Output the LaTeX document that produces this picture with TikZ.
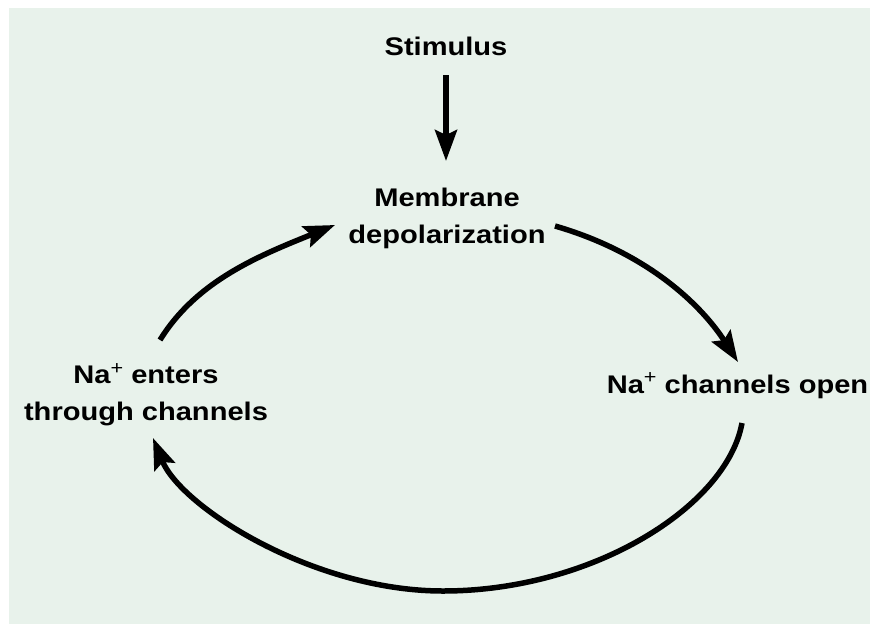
\documentclass[tikz,border=0pt]{standalone}
\usepackage{fontspec}
\newfontfamily\labelfont[FakeStretch=1.14]{Liberation Sans}
\usetikzlibrary{arrows.meta}
\definecolor{bgcol}{HTML}{E8F2EB}
\newcommand{\plusup}{\raisebox{0.36em}{\fontsize{19}{19}\selectfont\mdseries +}}
\begin{document}
\begin{tikzpicture}[x=1pt,y=-1pt,
  lbl/.style={inner sep=0pt,align=center,font=\labelfont\bfseries\fontsize{25.5}{37}\selectfont,text=black},
  flow/.style={line width=5.5pt,-{Stealth[length=31pt,width=22pt,inset=5pt]}}]
\useasboundingbox (0,0) rectangle (870,624);
\fill[white] (0,0) rectangle (870,624);
\fill[bgcol] (9,8) rectangle (870,624);
\node[lbl,anchor=base] (stim) at (446,55) {Stimulus};
\node[lbl,anchor=north] (memb) at (447,188) {Membrane\\depolarization};
\node[lbl,anchor=base] (open) at (737.5,393) {Na\plusup{} channels open};
\node[lbl,anchor=north] (enter) at (146,363) {Na\plusup{} enters\\through channels};
\draw[flow,shorten <=20pt,shorten >=27pt] (stim.south) -- (stim.south |- memb.north);
\coordinate (a1s) at (555,226);
\coordinate (a1e) at (738,362);
\coordinate (a2s) at (742,423);
\coordinate (a2m) at (443,591);
\coordinate (a2e) at (153,438);
\coordinate (a3s) at (160,340);
\coordinate (a3e) at (335,225);
\draw[flow] (a1s) .. controls (645,252) and (700,303) .. (a1e);
\draw[flow] (a2s) .. controls (727,506) and (593,591) .. (a2m)
                 .. controls (313,591) and (181,507) .. (a2e);
\draw[flow] (a3s) .. controls (197,280) and (261,255) .. (a3e);
\end{tikzpicture}
\end{document}
